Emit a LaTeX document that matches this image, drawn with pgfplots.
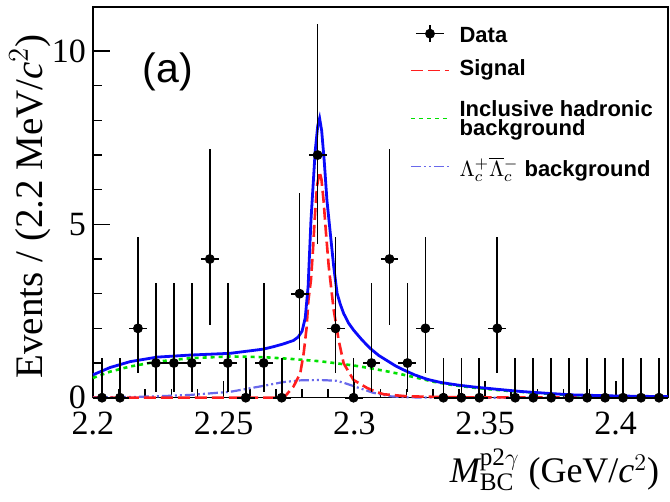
\documentclass[border=0pt]{standalone}
\usepackage{fontspec}
\setmainfont{Liberation Serif}
\newfontfamily\lsans{Liberation Sans}
\usepackage{pgfplots}
\usepackage{pgfplotstable}
\pgfplotsset{compat=1.18}

\definecolor{fitblue}{RGB}{10,10,250}
\definecolor{sigred}{RGB}{255,30,30}
\definecolor{incgreen}{RGB}{0,225,0}
\definecolor{lcblue}{RGB}{105,105,235}

% data: bin centre, counts, asymmetric Poisson errors
\pgfplotstableread{
x y ep em
2.20344 0 1.148 0
2.21031 0 1.148 0
2.21719 2 2.638 1.292
2.22406 1 2.300 0.827
2.23094 1 2.300 0.827
2.23781 1 2.300 0.827
2.24469 4 3.163 1.914
2.25156 1 2.300 0.827
2.25844 0 1.148 0
2.26531 1 2.300 0.827
2.27219 0 1.148 0
2.27906 3 2.918 1.633
2.28594 7 3.770 2.580
2.29281 2 2.638 1.292
2.29969 0 1.148 0
2.30656 1 2.300 0.827
2.31344 4 3.163 1.914
2.32031 1 2.300 0.827
2.32719 2 2.638 1.292
2.33406 0 1.148 0
2.34094 0 1.148 0
2.34781 0 1.148 0
2.35469 2 2.638 1.292
2.36156 0 1.148 0
2.36844 0 1.148 0
2.37531 0 1.148 0
2.38219 0 1.148 0
2.38906 0 1.148 0
2.39594 0 1.148 0
2.40281 0 1.148 0
2.40969 0 1.148 0
2.41656 0 1.148 0
}\datatab

\pgfplotstableread{
x y
2.2000 0
2.2700 0
2.2736 0.05
2.2767 0.32
2.2793 0.70
2.2806 1.28
2.2817 2.0
2.2824 2.8
2.2834 3.4
2.2842 4.3
2.2848 5.12
2.2857 6.1
2.2867 6.52
2.2874 6.3
2.2882 5.7
2.2892 4.7
2.2902 3.78
2.2921 2.53
2.2940 1.66
2.2959 0.99
2.2997 0.51
2.3049 0.28
2.3073 0.20
2.3111 0.10
2.3202 0.04
2.3400 0.01
2.4200 0
}\sigtab

\pgfplotstableread{
x y
2.2000 0.66
2.2065 0.87
2.2142 1.04
2.2245 1.17
2.2372 1.23
2.2525 1.28
2.2651 1.40
2.2690 1.47
2.2728 1.55
2.2767 1.65
2.2785 1.75
2.2800 1.92
2.2812 2.30
2.2823 3.2
2.2834 5.12
2.2850 7.1
2.2860 7.85
2.2867 8.06
2.2875 7.7
2.2885 6.8
2.2895 5.7
2.2908 4.74
2.2921 3.78
2.2934 3.01
2.2946 2.70
2.2959 2.43
2.2978 2.15
2.2997 1.95
2.3030 1.66
2.3061 1.42
2.3093 1.22
2.3125 1.07
2.3157 0.92
2.3189 0.80
2.3230 0.66
2.3279 0.53
2.3330 0.44
2.3400 0.36
2.3456 0.31
2.3550 0.24
2.3636 0.18
2.3750 0.12
2.3839 0.08
2.4000 0.05
2.4200 0.03
}\tottab

\pgfplotstableread{
x y
2.2000 0.57
2.2065 0.75
2.2142 0.90
2.2245 1.04
2.2372 1.14
2.2525 1.19
2.2651 1.17
2.2755 1.12
2.2870 1.05
2.2997 0.93
2.3061 0.85
2.3125 0.76
2.3189 0.66
2.3253 0.55
2.3303 0.46
2.3380 0.36
2.3456 0.29
2.3550 0.22
2.3636 0.17
2.3750 0.11
2.3839 0.07
2.4000 0.04
2.4200 0.02
}\inctab

\pgfplotstableread{
x y
2.2000 0.01
2.2142 0.02
2.2245 0.04
2.2372 0.08
2.2525 0.17
2.2651 0.34
2.2728 0.45
2.2793 0.50
2.2867 0.51
2.2930 0.49
2.2960 0.43
2.3010 0.30
2.3073 0.14
2.3138 0.04
2.3202 0.01
2.3400 0
2.4200 0
}\lctab

\begin{document}
\begin{tikzpicture}
\begin{axis}[
  at={(0,0)}, anchor=south west,
  scale only axis, width=287.5pt, height=195.35pt,
  xmin=2.2, xmax=2.42, ymin=0, ymax=11.27,
  clip=false,
  axis line style={line width=0.8pt},
  tick align=inside, xtick pos=bottom, ytick pos=left,
  xtick={2.2,2.25,2.3,2.35,2.4}, xticklabels={2.2,2.25,2.3,2.35,2.4},
  ytick={0,5,10}, yticklabels={0,5,10},
  minor x tick num=4, minor y tick num=4,
  major tick length=8.5pt, minor tick length=4.5pt,
  tick style={black, line width=0.8pt},
  ticklabel style={font=\fontsize{17}{20}\selectfont},
  xticklabel style={yshift=-3.5pt},
  label style={font=\fontsize{19.5}{23}\selectfont},
  xlabel={$\textit{M}^{\mathrm{p2}\gamma}_{\mathrm{BC}}$ (GeV/\textit{c}$^2$)},
  xlabel style={at={(axis description cs:0.997,-0.185)}, anchor=east,
    font=\fontsize{18}{22}\selectfont},
  ylabel={Events / (2.2 MeV/\textit{c}$^2$)},
  ylabel style={at={(axis description cs:-0.109,0.49)}, anchor=center},
  reverse legend,
  legend cell align=left,
  legend style={at={(axis description cs:0.5513,0.9762)}, anchor=north west,
    draw=none, fill=none, inner sep=0pt, row sep=0pt,
    font=\lsans\bfseries\fontsize{11}{9.5}\selectfont,
    nodes={inner sep=0pt, text depth=},
    /tikz/every odd column/.append style={column sep=5pt}},
  legend image code/.code={\draw[#1, line width=0.6pt] (0pt,0pt) -- (19pt,0pt);},
]
\addplot[lcblue, line width=1.1pt,
  dash pattern=on 5pt off 1.5pt on 1pt off 1.5pt on 1pt off 1.5pt]
  table[x=x,y=y] {\lctab};
\addlegendentry{\rule[-5.2pt]{0pt}{20pt}$\Lambda_c^+\overline{\Lambda}{}_c^-$ background}
\addplot[incgreen, line width=1.3pt, dash pattern=on 2pt off 2pt]
  table[x=x,y=y] {\inctab};
\addlegendentry{\rule[-5.65pt]{0pt}{28.3pt}\vbox{\baselineskip=9.5pt\lineskiplimit=-20pt\hbox{Inclusive hadronic}\hbox{background}}}
\addplot[sigred, line width=1.3pt, dash pattern=on 6pt off 2.5pt]
  table[x=x,y=y] {\sigtab};
\addlegendentry{\rule[-7.35pt]{0pt}{19.7pt}Signal}
\addplot[fitblue, line width=1.4pt, forget plot] table[x=x,y=y] {\tottab};
\addplot[black, only marks, mark=*, mark size=2.25pt,
  error bars/.cd, y dir=both, y explicit, x dir=both, x fixed=0.0034375,
  error mark=none, error bar style={line width=0.85pt, black},
  /pgfplots/legend image code/.code={
    \draw[black, line width=0.6pt] (2.5pt,0pt) -- (16.5pt,0pt);
    \draw[black, line width=0.6pt] (9.5pt,-4.25pt) -- (9.5pt,4.25pt);
    \fill[black] (9.5pt,0pt) circle (2.25pt);}]
  table[x=x,y=y,y error plus=ep,y error minus=em] {\datatab};
\addlegendentry{\rule[-4.3pt]{0pt}{17pt}Data}
\node[font=\lsans\fontsize{20.5}{24}\selectfont] at (rel axis cs:0.13,0.834) {(a)};
\end{axis}
\pgfresetboundingbox
\useasboundingbox (-46.5pt,-52.15pt) rectangle (288.5pt,198.85pt);
\end{tikzpicture}
\end{document}
